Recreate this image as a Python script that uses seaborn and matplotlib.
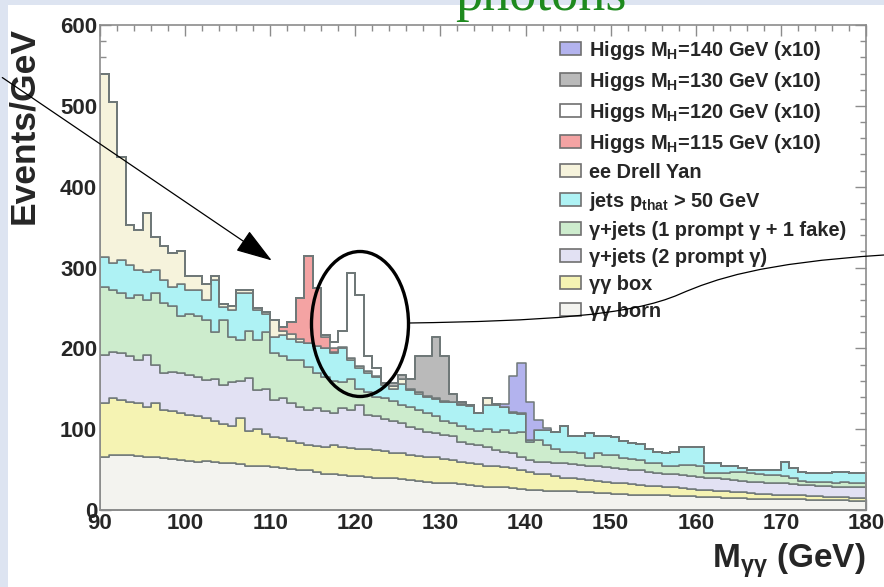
import numpy as np
import pandas as pd
import matplotlib
matplotlib.use("Agg")
import matplotlib.pyplot as plt
import seaborn as sns
from matplotlib.patches import Patch, Ellipse, FancyArrowPatch, PathPatch, Rectangle
from matplotlib.path import Path

# ---------------- data (Events/GeV, 1 GeV bins from 90 to 180) ----------------
mass_edges = list(range(90, 181))

# cumulative top of each background layer of the stack
top_born = [66, 68, 68, 68, 67, 66, 65, 64, 63, 62,
            61, 60, 61, 59, 58, 58, 57, 55, 55, 54,
            53, 52, 51, 50, 49, 47, 45, 44, 43, 42,
            42, 41, 40, 40, 39, 38, 37, 36, 35, 34,
            33, 33, 32, 31, 30, 29, 28, 28, 27, 26,
            25, 25, 24, 24, 23, 23, 22, 22, 21, 21,
            20, 20, 19, 19, 18, 18, 18, 17, 17, 17,
            16, 16, 16, 15, 15, 15, 14, 14, 14, 13,
            13, 13, 13, 12, 12, 12, 12, 12, 11, 11]
top_box = [132, 138, 136, 134, 132, 128, 132, 124, 122, 120,
           118, 116, 114, 110, 106, 104, 114, 98, 100, 94,
           90, 89, 85, 83, 81, 79, 78, 80, 78, 77,
           76, 76, 74, 73, 71, 70, 68, 67, 66, 65,
           63, 62, 60, 58, 57, 55, 54, 53, 52, 50,
           47, 45, 44, 42, 40, 39, 38, 37, 36, 35,
           34, 33, 32, 31, 30, 30, 29, 28, 27, 26,
           25, 25, 24, 23, 22, 22, 21, 20, 20, 19,
           19, 18, 18, 17, 17, 16, 16, 16, 15, 15]
top_2prompt = [192, 196, 194, 190, 186, 192, 180, 170, 171, 170,
               167, 165, 161, 162, 155, 158, 160, 163, 148, 150,
               136, 138, 132, 128, 124, 126, 122, 120, 126, 124,
               130, 118, 116, 112, 110, 108, 103, 100, 97, 95,
               93, 92, 84, 82, 80, 78, 74, 72, 70, 66,
               62, 60, 60, 58, 58, 57, 56, 55, 54, 53,
               52, 51, 50, 49, 47, 46, 45, 44, 43, 42,
               41, 40, 39, 38, 37, 36, 35, 35, 34, 33,
               33, 32, 31, 31, 30, 30, 29, 29, 28, 28]
top_1fake = [276, 272, 268, 262, 266, 260, 268, 256, 252, 240,
             243, 240, 235, 220, 235, 214, 210, 222, 210, 220,
             194, 190, 186, 186, 177, 169, 165, 160, 158, 162,
             150, 146, 140, 138, 135, 130, 128, 124, 120, 116,
             110, 108, 104, 100, 98, 100, 97, 99, 95, 96,
             84, 86, 80, 76, 72, 72, 70, 64, 70, 68,
             68, 64, 63, 62, 58, 58, 55, 54, 56, 56,
             54, 46, 46, 46, 47, 47, 46, 44, 43, 43,
             42, 40, 36, 35, 35, 35, 34, 35, 34, 34]
top_jets = [313, 305, 309, 303, 297, 295, 297, 285, 276, 280,
            272, 272, 260, 285, 251, 248, 268, 268, 248, 243,
            214, 217, 212, 208, 206, 203, 200, 194, 200, 186,
            176, 170, 164, 155, 150, 156, 148, 144, 140, 137,
            134, 133, 130, 129, 120, 130, 130, 127, 120, 119,
            86, 99, 99, 97, 104, 91, 91, 95, 91, 91,
            90, 85, 83, 82, 76, 72, 70, 72, 78, 78,
            78, 58, 58, 55, 54, 52, 50, 50, 49, 49,
            60, 52, 47, 46, 46, 46, 47, 47, 46, 46]
top_dy = [540, 505, 437, 353, 346, 367, 338, 326, 318, 320,
          289, 289, 280, 290, 255, 252, 272, 272, 250, 245,
          235, 222, 218, 212, 206, 203, 200, 196, 202, 188,
          178, 172, 166, 157, 153, 162, 150, 146, 141, 138,
          135, 134, 131, 130, 120, 138, 131, 128, 121, 120,
          86, 99, 99, 97, 104, 91, 91, 95, 91, 91,
          90, 85, 83, 82, 76, 72, 70, 72, 78, 78,
          78, 58, 58, 55, 54, 52, 50, 50, 49, 49,
          60, 52, 47, 46, 46, 46, 47, 47, 46, 46]

# Higgs signals (x10), stacked on top of the background
h115_mass = [111, 112, 113, 114, 115, 116, 117]
h115_val = [5, 15, 50, 108, 72, 14, 4]
h120_mass = [116, 117, 118, 119, 120, 121, 122]
h120_val = [2, 8, 20, 105, 88, 18, 10]
h130_mass = [124, 125, 126, 127, 128, 129, 130, 131, 132]
h130_val = [4, 5, 12, 44, 49, 76, 55, 10, 3]
h140_mass = [137, 138, 139, 140, 141, 142]
h140_val = [3, 45, 62, 48, 12, 3]

labels = ["Higgs M$_{H}$=140 GeV (x10)", "Higgs M$_{H}$=130 GeV (x10)",
          "Higgs M$_{H}$=120 GeV (x10)", "Higgs M$_{H}$=115 GeV (x10)",
          "ee Drell Yan", "jets p$_{that}$ > 50 GeV",
          "γ+jets (1 prompt γ + 1 fake)", "γ+jets (2 prompt γ)",
          "γγ box", "γγ born"]
colors = ["#b3b3ee", "#bababa", "#ffffff", "#f4a3a3", "#f6f3dc",
          "#aef2f4", "#cdeccd", "#e2e1f3", "#f5f3b3", "#f3f3ef"]

# ---------------- build long table ----------------
centers = np.array(mass_edges[:-1], dtype=float) + 0.5
tops = np.vstack([top_born, top_box, top_2prompt, top_1fake, top_jets, top_dy]).astype(float)
comps = np.diff(np.vstack([np.zeros(len(centers)), tops]), axis=0)
bkg_labels = [labels[9], labels[8], labels[7], labels[6], labels[5], labels[4]]

rows = []
for lab, comp in zip(bkg_labels, comps):
    for c, w in zip(centers, comp):
        rows.append((c, w, lab))
for lab, ms, vs in [(labels[3], h115_mass, h115_val), (labels[2], h120_mass, h120_val),
                    (labels[1], h130_mass, h130_val), (labels[0], h140_mass, h140_val)]:
    for m, v in zip(ms, vs):
        rows.append((m + 0.5, v, lab))
df = pd.DataFrame(rows, columns=["mass", "events", "process"])

# ---------------- style ----------------
sns.set_style("ticks")
plt.rcParams["font.family"] = ["Liberation Sans", "DejaVu Sans"]
plt.rcParams["font.weight"] = "bold"
plt.rcParams["mathtext.fontset"] = "custom"
plt.rcParams["mathtext.rm"] = "Liberation Sans:bold"
plt.rcParams["mathtext.it"] = "Liberation Sans:bold"
plt.rcParams["mathtext.bf"] = "Liberation Sans:bold"
plt.rcParams["mathtext.default"] = "rm"

W, H = 884, 587
fig = plt.figure(figsize=(W / 100, H / 100), dpi=100)
fig.patch.set_facecolor("white")

def px(x, y):
    return (x / W, 1 - y / H)

# slide background strips
fig.add_artist(Rectangle((0, 0), 8 / W, 1, transform=fig.transFigure,
                         facecolor="#dde4f1", edgecolor="none", zorder=0))
fig.add_artist(Rectangle((0, 1 - 5 / H), 1, 5 / H, transform=fig.transFigure,
                         facecolor="#dde4f1", edgecolor="none", zorder=0))

ax = fig.add_axes([100 / W, 1 - 510 / H, 766 / W, 485 / H])
ax.set_facecolor("white")

sns.histplot(data=df, x="mass", weights="events", hue="process", hue_order=labels,
             palette=dict(zip(labels, colors)), multiple="stack", element="step",
             bins=mass_edges, alpha=1, edgecolor="#6f7878", linewidth=1.1,
             legend=False, ax=ax)

ax.set_xlim(90, 180)
ax.set_ylim(0, 600)
ax.set_xticks(range(90, 181, 10))
ax.set_xticks(range(90, 181, 2), minor=True)
ax.set_yticks(range(0, 601, 100))
ax.set_yticks(range(0, 601, 20), minor=True)
ax.tick_params(which="both", direction="in", top=True, right=True, color="#8c8c8c",
               labelsize=16, pad=2)
ax.tick_params(which="major", length=8, width=1.0)
ax.tick_params(which="minor", length=4, width=1.0)
for lbl in ax.get_xticklabels() + ax.get_yticklabels():
    lbl.set_fontweight("bold")
for s in ax.spines.values():
    s.set_color("#8c8c8c")
    s.set_linewidth(1.2)

ax.set_xlabel("M$_{γγ}$ (GeV)", fontsize=24, fontweight="bold", loc="right")
ax.xaxis.set_label_coords(1.0, -0.065)
ax.xaxis.label.set_va("top")
ax.set_ylabel("Events/GeV", fontsize=25.5, fontweight="bold", loc="top")
ax.yaxis.set_label_coords(-0.078, 0.996)

handles = [Patch(facecolor=c, edgecolor="#707070", linewidth=1.2) for c in colors]
ax.legend(handles, labels, loc="upper left", bbox_to_anchor=(0.601, 0.972),
          frameon=False, fontsize=14.4, handlelength=1.05, handleheight=0.55,
          handletextpad=0.4, labelspacing=0.40, borderpad=0, borderaxespad=0)

# ---------------- slide annotations ----------------
fig.add_artist(FancyArrowPatch(px(0, 76), px(274, 262), transform=fig.transFigure,
                               arrowstyle="-|>,head_length=1.15,head_width=0.38",
                               mutation_scale=20, color="black", lw=0.9, zorder=10))
fig.add_artist(Ellipse(px(360, 324), 97 / W, 145 / H, transform=fig.transFigure,
                       fill=False, edgecolor="black", lw=2.4, zorder=10))
verts = [px(409, 323), px(540, 321), px(630, 316), px(680, 294),
         px(715, 279), px(760, 263), px(884, 255)]
codes = [Path.MOVETO, Path.CURVE4, Path.CURVE4, Path.CURVE4,
         Path.CURVE4, Path.CURVE4, Path.CURVE4]
fig.add_artist(PathPatch(Path(verts, codes), transform=fig.transFigure, fill=False,
                         edgecolor="black", lw=0.9, zorder=10))
fig.text(455 / W, 1 - 10 / H, "photons", fontsize=39, family="Liberation Serif",
         fontweight="normal", color="#1e8a1e", ha="left", va="baseline")

fig.savefig("out.png", dpi=100)
